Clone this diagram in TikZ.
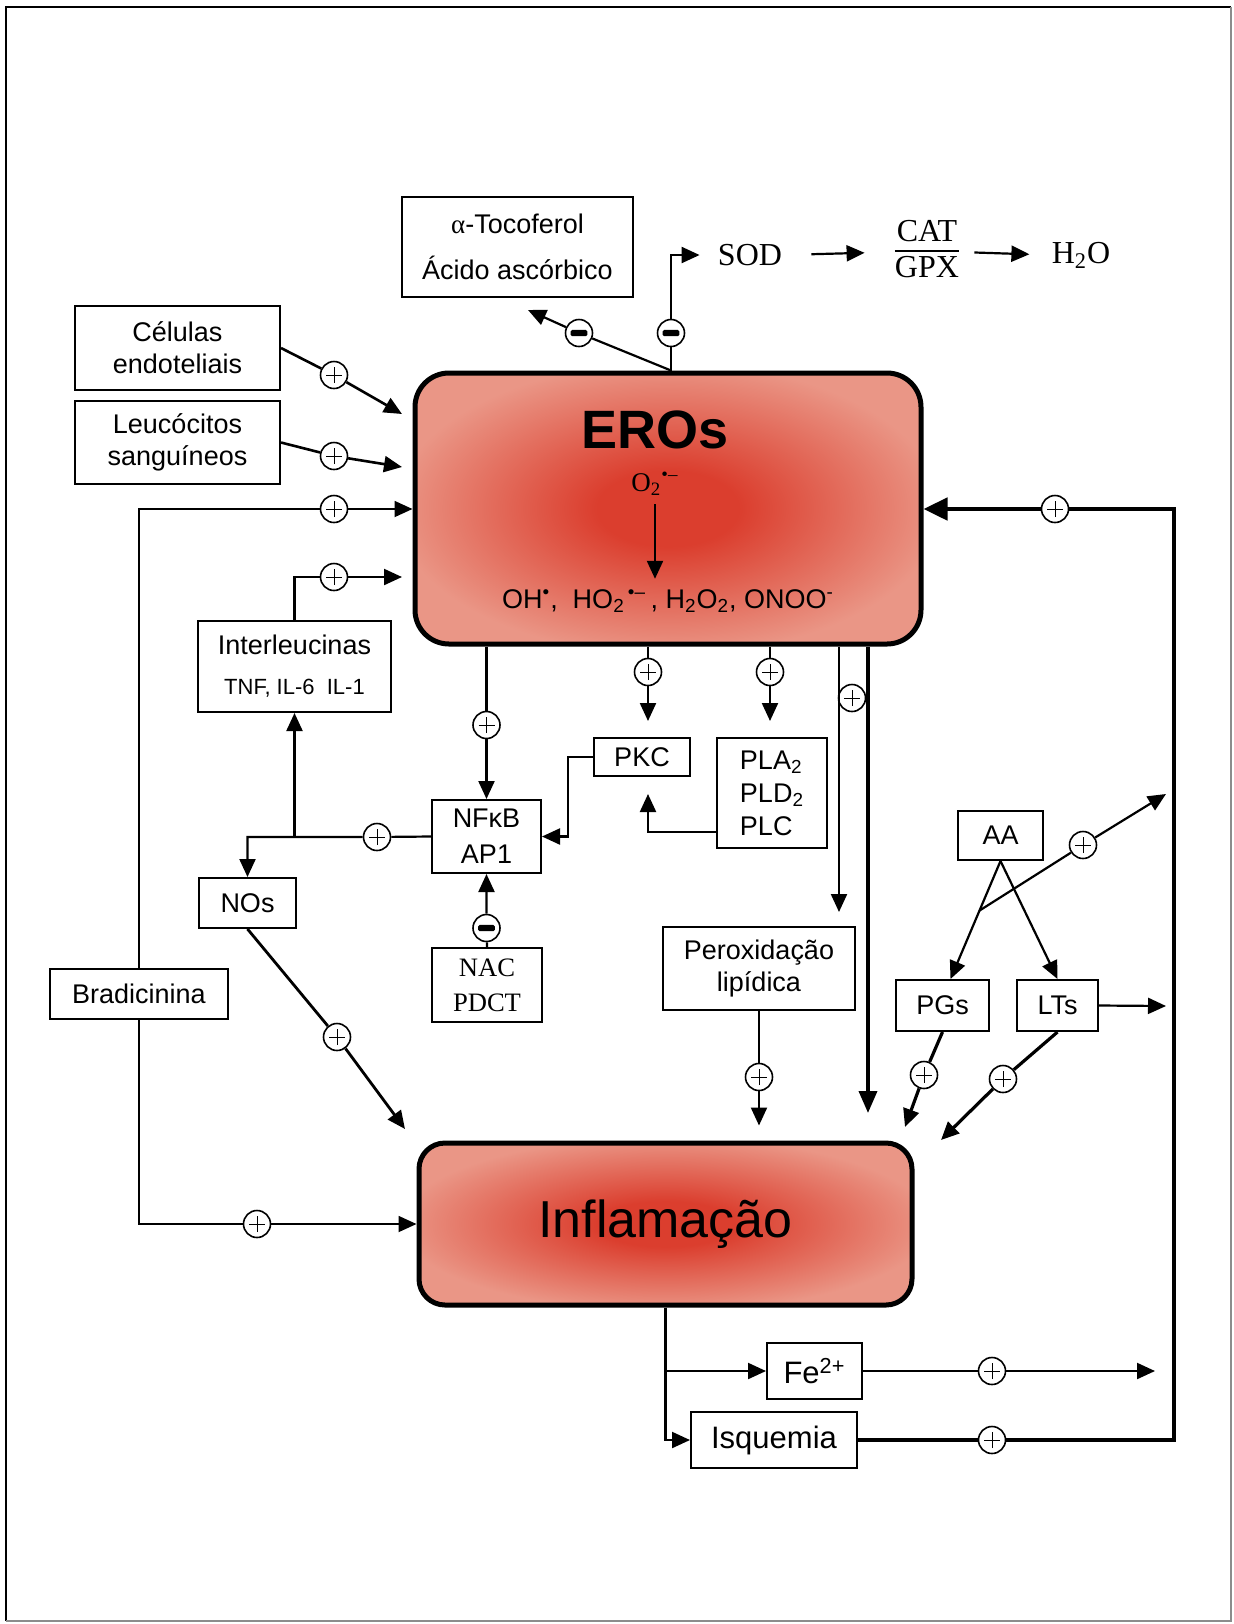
\documentclass[tikz,border=0pt]{standalone}
\usepackage{fontspec}
\setmainfont{Liberation Serif}
\setsansfont{Liberation Sans}
\usepackage{tikz}
\usetikzlibrary{arrows.meta}
\usetikzlibrary{calc}
\definecolor{rosEdge}{RGB}{234,150,134}
\definecolor{rosCore}{RGB}{219,62,46}
\pgfdeclareradialshading{rosShade}{\pgfpoint{0bp}{0bp}}{color(0bp)=(rosCore); color(7bp)=(rosCore); color(27bp)=(rosEdge); color(50bp)=(rosEdge)}
\tikzset{
    box/.style={draw, line width=1pt, inner sep=0pt, align=center, font=\sffamily\fontsize{13.5}{16}\selectfont},
    sgn/.style={circle, draw, fill=white, line width=0.8pt, minimum size=13.5pt, inner sep=0pt},
    plussign/.style={sgn, path picture={\draw[black, line width=0.5pt] ([xshift=-4pt]path picture bounding box.center) -- ([xshift=4pt]path picture bounding box.center) ([yshift=-4pt]path picture bounding box.center) -- ([yshift=4pt]path picture bounding box.center);}},
    minussign/.style={sgn, path picture={\fill[black, rounded corners=0.8pt] ([shift={(-4.2pt,-1.6pt)}]path picture bounding box.center) rectangle ([shift={(4.2pt,1.6pt)}]path picture bounding box.center);}},
    arr/.style={-{Triangle[length=9pt,width=8pt]}, line width=1.1pt},
    bigarr/.style={-{Triangle[length=12pt,width=11pt]}, line width=2.4pt},
    rosbox/.style={draw, line width=2.5pt, shade, shading=rosShade, inner sep=0pt},
    plain/.style={inner sep=0pt, font=\fontsize{16}{18}\selectfont}
}
\begin{document}
\begin{tikzpicture}[x=0.5pt, y=-0.5pt]
    \useasboundingbox (0,0) rectangle (1234,1624);
    \draw[line width=1pt] (6,1621) -- (6,7) -- (1231,7);
    \draw[line width=0.6pt, black!45] (1231,7) -- (1231,1621) -- (6,1621);

    \node[rosbox, rounded corners=17pt, minimum width=253pt, minimum height=135.5pt] (eros) at (668,508.5) {};
    \node[rosbox, rounded corners=13pt, minimum width=246.5pt, minimum height=81pt, font=\sffamily\fontsize{26}{30}\selectfont] (infl) at (665.5,1224) {Inflamação};
    \node[font=\sffamily\bfseries\fontsize{27}{30}\selectfont] (erosT) at (655,430) {EROs};
    \node[inner sep=0pt, font=\fontsize{13.5}{15}\selectfont] (o2) at (655,484) {O\textsubscript{2}\textsuperscript{•–}};
    \node[inner sep=0pt, font=\sffamily\fontsize{13.5}{16}\selectfont] (spec) at (668,601) {OH\textsuperscript{•}, \ HO\textsubscript{2}\textsuperscript{\,•–}\,, H\textsubscript{2}O\textsubscript{2}, ONOO\textsuperscript{-}};

    \node[box, minimum width=115.5pt, minimum height=50pt] (toco) at (517.5,247) {{\rmfamily α}-Tocoferol\\[7pt]Ácido ascórbico};
    \node[plain] (sod) at (750,255) {SOD};
    \node[plain] (cat) at (927,252) {\setlength{\arrayrulewidth}{1pt}\begin{tabular}{@{}c@{}}CAT\\[-1pt]\hline GPX\end{tabular}};
    \node[plain] (h2o) at (1081,255) {H\textsubscript{2}O};
    \node[box, minimum width=102.5pt, minimum height=42pt] (cel) at (177.5,348) {Células\\endoteliais};
    \node[box, minimum width=102.5pt, minimum height=41.5pt] (leu) at (177.5,442.5) {Leucócitos\\sanguíneos};
    \node[box, minimum width=96.5pt, minimum height=45.5pt] (inter) at (294.5,666.5) {Interleucinas\\[4pt]{\fontsize{11}{13}\selectfont TNF, IL-6\ \ IL-1}};
    \node[box, minimum width=54.5pt, minimum height=36.5pt] (nfkb) at (486.5,836.5) {NFκB\\[2pt]AP1};
    \node[box, minimum width=48.5pt, minimum height=25pt] (nos) at (247.5,903) {NOs};
    \node[box, minimum width=55pt, minimum height=37pt, font=\rmfamily\fontsize{13.3}{17.5}\selectfont] (nac) at (487,985) {NAC\\PDCT};
    \node[box, minimum width=89pt, minimum height=25pt] (brad) at (139,994) {Bradicinina};
    \node[box, minimum width=48pt, minimum height=19pt] (pkc) at (642,757) {PKC};
    \node[box, minimum width=55pt, minimum height=55pt, align=left, font=\sffamily\fontsize{13.5}{16.5}\selectfont] (pla) at (772,793) {PLA\textsubscript{2}\\PLD\textsubscript{2}\\PLC};
    \node[box, minimum width=96pt, minimum height=41.5pt] (perox) at (759,968.5) {Peroxidação\\lipídica};
    \node[box, minimum width=42.5pt, minimum height=24.5pt] (aa) at (1000.5,835.5) {AA};
    \node[box, minimum width=46.5pt, minimum height=25.5pt] (pgs) at (942.5,1005.5) {PGs};
    \node[box, minimum width=40.5pt, minimum height=25.5pt] (lts) at (1057.5,1005.5) {LTs};
    \node[box, minimum width=47.5pt, minimum height=28pt, font=\sffamily\fontsize{15.5}{18}\selectfont] (fe) at (814.5,1371) {Fe\textsuperscript{2+}};
    \node[box, minimum width=83pt, minimum height=28pt, font=\sffamily\fontsize{15.5}{18}\selectfont] (isq) at (774,1440) {Isquemia};

    \node[minussign] (mT) at (579,333) {};
    \node[minussign] (mS) at (671,333) {};
    \node[plussign] (pCel) at (334,375) {};
    \node[plussign] (pLeu) at (334,456) {};
    \node[plussign] (pBrad) at (334,509) {};
    \node[plussign] (pInt) at (334,577) {};
    \node[plussign] (pLoop) at (1055,509) {};
    \node[plussign] (pFe) at (992,1371) {};
    \node[plussign] (pIsq) at (992,1440) {};
    \node[plussign] (pNf) at (486.5,725) {};
    \node[plussign] (pPkc) at (648,672) {};
    \node[plussign] (pPla) at (770,672) {};
    \node[plussign] (pPer) at (852,698) {};
    \node[plussign] (pNos) at (377,837) {};
    \node[minussign] (mNac) at (486.5,928) {};
    \node[plussign] (pNosInf) at (337,1037) {};
    \node[plussign] (pBradInf) at (257,1224) {};
    \node[plussign] (pPerInf) at (759,1077) {};
    \node[plussign] (pAa) at (1083,845) {};
    \node[plussign] (pPg) at (924,1075) {};
    \node[plussign] (pLt) at (1003,1079) {};

    \coordinate (tocoIn) at (528,310);
    \coordinate (eCel) at (402,414);
    \coordinate (eLeu) at (402,467);
    \coordinate (eInt) at (402,577);
    \coordinate (loopTop) at (1174,509);
    \coordinate (feOut) at (1155,1371);
    \coordinate (iNos) at (405,1129);
    \coordinate (cPer) at (839,912);
    \coordinate (cInf) at (868,1113);
    \coordinate (aaOut) at (1166,794);
    \coordinate (ltsOut) at (1166,1006);
    \coordinate (iPg) at (905,1127);
    \coordinate (iLt) at (941,1140);
    \coordinate (aaB) at ($(aa.south)!0.42!([xshift=4pt]pgs.north)$);

    \draw[arr, shorten <=4pt, shorten >=5pt] (o2) -- (o2 |- spec.north);
    \draw[arr, shorten >=9pt] (eros.north -| mS) -- (mS) |- (sod.west);
    \draw[arr] (eros.north -| mS) -- (mT) -- (tocoIn);
    \draw[arr, shorten <=14.5pt, shorten >=15pt] (sod.east) -- (cat.west);
    \draw[arr, shorten <=7.5pt, shorten >=11pt] (cat.east) -- (h2o.west);
    \draw[arr, line width=1.3pt] (cel.east) -- (pCel) -- (eCel);
    \draw[arr, line width=1.3pt] (leu.east) -- (pLeu) -- (eLeu);
    \draw[arr, line width=0.9pt] (brad.north) |- (pBrad) -- (pBrad -| eros.west);
    \draw[arr] (inter.north) |- (pInt) -- (eInt);
    \draw[bigarr] (isq.east) -- (pIsq) -- (pIsq -| loopTop) -- (loopTop) -- (pLoop) -- (pLoop -| eros.east);
    \draw[arr] (fe.east) -- (pFe) -- (feOut);
    \draw[arr] (infl.south) |- (fe.west);
    \draw[arr] (infl.south) |- (isq.west);
    \draw[arr] (eros.south -| nfkb.north) -- (pNf) -- (nfkb.north);
    \draw[arr, shorten >=8pt] (eros.south -| pPkc) -- (pPkc) -- (pPkc |- pkc.north);
    \draw[arr, shorten >=8pt] (eros.south -| pPla) -- (pPla) -- (pPla |- pla.north);
    \draw[arr, shorten >=8.5pt] ([yshift=-19.5pt]pla.west) -| (pkc.south -| pPkc);
    \draw[arr] (pkc.west) -| ([xshift=13pt]nfkb.east) -- (nfkb.east);
    \draw[arr] (nfkb.west) -- (pNos) -| (nos.north);
    \draw[arr] (inter.south |- pNos) -- (inter.south);
    \draw[arr] (nac.north) -- (mNac) -- (nfkb.south);
    \draw[arr, line width=1.4pt] (nos.south) -- (pNosInf) -- (iNos);
    \draw[arr, line width=0.9pt] (brad.south) |- (pBradInf) -- (pBradInf -| infl.west);
    \draw[arr] (cPer |- eros.south) -- (cPer);
    \draw[-{Triangle[length=11pt,width=9pt]}, line width=1.8pt] (cInf |- eros.south) -- (cInf);
    \draw[arr, shorten >=7.5pt] (perox.south) -- (pPerInf) -- (pPerInf |- infl.north);
    \draw[arr] (aa.south) -- ([xshift=4pt]pgs.north);
    \draw[arr] (aa.south) -- (lts.north);
    \draw[arr] (aaB) -- (pAa) -- (aaOut);
    \draw[arr] (lts.east) -- (ltsOut);
    \draw[arr, line width=1.6pt] (pgs.south) -- (pPg) -- (iPg);
    \draw[arr, line width=1.6pt] (lts.south) -- (pLt) -- (iLt);

\end{tikzpicture}
\end{document}
